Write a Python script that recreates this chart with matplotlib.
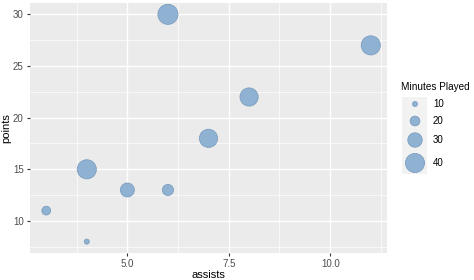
import matplotlib
matplotlib.use("Agg")
import matplotlib.pyplot as plt
import numpy as np

assists = [3, 4, 4, 5, 6, 6, 7, 8, 11]
points = [11, 8, 15, 13, 13, 30, 18, 22, 27]
minutes = [18, 10, 40, 29, 23, 42, 38, 38, 40]
legend_values = [10, 20, 30, 40]
x_ticks = [5.0, 7.5, 10.0]
y_ticks = [10, 15, 20, 25, 30]

plt.rcParams['font.family'] = ['Liberation Sans', 'DejaVu Sans']
DPI = 100
fig = plt.figure(figsize=(4.74, 2.80), dpi=DPI)

def size_of(v):
    d_px = 0.47 * np.asarray(v, dtype=float) + 0.3
    d_pt = d_px * 72 / DPI
    return d_pt ** 2

fill = '#8FB1D2'
edge = '#7C9EC1'

ax = fig.add_axes([30/474, 1-253/280, (387-30)/474, (253-3)/280])
ax.set_facecolor('#EBEBEB')
ax.scatter(assists, points, s=size_of(minutes), c=fill, edgecolors=edge,
           linewidths=0.6, zorder=3)
ax.set_xlim(2.6, 11.4)
ax.set_ylim(6.9, 31.1)
ax.set_xticks(x_ticks)
ax.set_xticklabels(['5.0', '7.5', '10.0'])
ax.set_yticks(y_ticks)
ax.set_xticks([3.75, 6.25, 8.75, 11.25], minor=True)
ax.set_yticks([7.5, 12.5, 17.5, 22.5, 27.5], minor=True)
ax.grid(which='major', color='white', linewidth=1.0, zorder=0)
ax.grid(which='minor', color='white', linewidth=0.5, zorder=0)
ax.set_axisbelow(True)
for sp in ax.spines.values():
    sp.set_visible(False)
ax.tick_params(which='major', length=2.5, color='#333333', labelcolor='#4D4D4D',
               labelsize=7, pad=2)
ax.tick_params(which='minor', length=0)
ax.set_xlabel('assists', fontsize=8, color='black', labelpad=0.5)
ax.set_ylabel('points', fontsize=8, color='black', labelpad=1)

# Legend
fig.text(401/474, 1-87/280, 'Minutes Played', fontsize=7.2, ha='left', va='center')
lax = fig.add_axes([402/474, 1-174/280, (427-402)/474, (174-97)/280])
lax.set_xlim(402, 427)
lax.set_ylim(174, 97)
lax.set_facecolor('#F2F2F2')
for sp in lax.spines.values():
    sp.set_visible(False)
lax.set_xticks([])
lax.set_yticks([])
ys = [104, 121, 140, 163]
lax.scatter([415]*4, ys, s=size_of(legend_values), c=fill, edgecolors=edge,
            linewidths=0.6, clip_on=False)
for v, y in zip(legend_values, ys):
    fig.text(433/474, 1-y/280, str(v), fontsize=7, ha='left', va='center', color='black')

fig.savefig('out.png', dpi=DPI)
